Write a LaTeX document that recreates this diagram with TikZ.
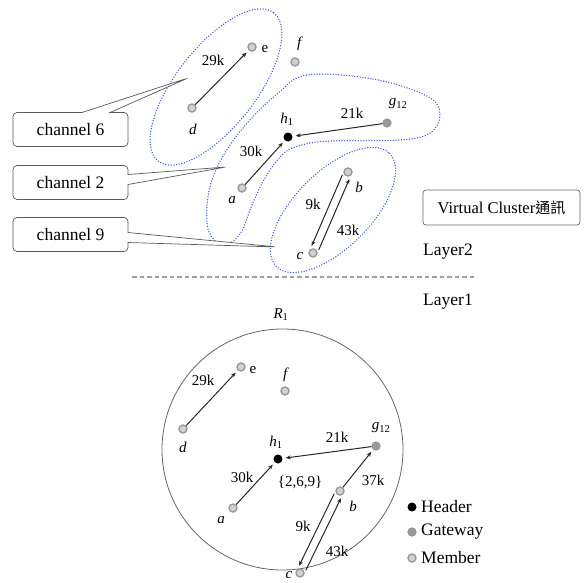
\documentclass[tikz,border=0pt]{standalone}
\usepackage{fontspec}
\setmainfont{Liberation Serif}
\newfontfamily\cjkfont{Noto Sans CJK TC}
\usetikzlibrary{shapes.callouts,arrows.meta}

\definecolor{chanblue}{RGB}{70,90,215}

\tikzset{
  header/.style={circle, fill=black, inner sep=0pt, minimum size=9pt},
  gateway/.style={circle, fill=gray!80, draw=gray!90, line width=0.6pt, inner sep=0pt, minimum size=8.5pt},
  member/.style={circle, fill=gray!35, draw=gray!80, line width=1.4pt, inner sep=0pt, minimum size=8pt},
  link/.style={draw=black!85, line width=1pt, -{Stealth[length=5pt,width=4pt]}, shorten >=3pt},
  dbl/.style={link, shorten <=5pt, shorten >=6pt},
  lab/.style={inner sep=0pt, font=\rmfamily\fontsize{15}{17}\selectfont},
  biglab/.style={inner sep=0pt, font=\rmfamily\fontsize{17.5}{20}\selectfont},
  chan/.style={draw=chanblue, line width=1.5pt, line cap=round, dash pattern=on 0pt off 2.7pt},
  callbox/.style={rectangle callout, draw=black!65, line width=0.7pt, rounded corners=4pt,
    minimum width=115pt, minimum height=34pt, fill=white, font=\rmfamily\fontsize{17.5}{20}\selectfont},
}

\begin{document}
\begin{tikzpicture}[x=1pt, y=-1pt]
\useasboundingbox (0,0) rectangle (587,582);

% ---------------- Layer 2: virtual clusters ----------------
% channel regions
\draw[chan, rotate around={52:(216,87)}] (216,87) ellipse [x radius=94, y radius=40];
\draw[chan, rotate around={45:(333,210)}] (333,210) ellipse [x radius=80, y radius=38];
\draw[chan] plot[smooth cycle, tension=0.6] coordinates {
  (307,75) (373,79) (427,96) (440,114) (430,133) (400,140) (330,141) (298,146)
  (282,155) (265,178) (252,205) (240,234) (223,245) (209,232) (207,205) (213,177)
  (228,148) (250,120) (277,94)};

% channel callouts
\node[callbox, callout absolute pointer={(188,78)}, callout pointer width=28pt] (ch6) at (70.5,129.5) {channel 6};
\node[callbox, callout absolute pointer={(226,167)}, callout pointer width=10pt] (ch2) at (70.5,182.5) {channel 2};
\node[callbox, callout absolute pointer={(277,247)}, callout pointer width=10pt] (ch9) at (70.5,234.5) {channel 9};

% nodes
\node[member]  (te) at (252,47) {};
\node[member]  (tf) at (295,62) {};
\node[member]  (td) at (192,108) {};
\node[header]  (th) at (288,137) {};
\node[gateway] (tg) at (387,123) {};
\node[member]  (ta) at (242,188) {};
\node[member]  (tb) at (348,172) {};
\node[member]  (tc) at (313,253) {};

% node labels
\node[lab] (tel) at (265,49) {e};
\node[lab] (tfl) at (300,44) {\textit{f}};
\node[lab] (tdl) at (193,129) {\textit{d}};
\node[lab] (thl) at (287,119) {\textit{h}\textsubscript{1}};
\node[lab] (tgl) at (398,104) {\textit{g}\textsubscript{12}};
\node[lab] (tal) at (232,200) {\textit{a}};
\node[lab] (tbl) at (359,187) {\textit{b}};
\node[lab] (tcl) at (300,256) {\textit{c}};

% links
\draw[link] (td) -- (te);
\draw[link] (tg) -- (th);
\draw[link] (ta) -- (th);
\draw[dbl] ([shift={(-3.7,-1.6)}]tb.center) -- ([shift={(-3.7,-1.6)}]tc.center);
\draw[dbl] ([shift={(3.7,1.6)}]tc.center) -- ([shift={(3.7,1.6)}]tb.center);

% link weights
\node[lab] (tw29) at (213,60) {29k};
\node[lab] (tw21) at (352,113) {21k};
\node[lab] (tw30) at (251,151) {30k};
\node[lab] (tw9)  at (313,204) {9k};
\node[lab] (tw43) at (348,230) {43k};

% cluster tag and layer divider
\node[draw=black!60, line width=0.7pt, rounded corners=3pt, minimum width=157pt, minimum height=35pt,
      font=\rmfamily\fontsize{16.5}{19}\selectfont] (vc) at (501.5,207.5) {Virtual Cluster{\cjkfont\fontsize{15}{19}\selectfont 通訊}};
\node[biglab, anchor=west] (l2) at (423,252) {Layer2};
\coordinate (divl) at (132,277);
\coordinate (divr) at (476,277);
\draw[gray!75, line width=1.1pt, dash pattern=on 4.5pt off 3pt] (divl) -- (divr);
\node[biglab, anchor=west] (l1) at (423,302) {Layer1};

% ---------------- Layer 1: physical region ----------------
\node[draw=black!60, line width=0.8pt, circle, minimum size=241pt, inner sep=0pt] (reg) at (282.5,449.5) {};
\node[lab] (regl) at (281,315) {\textit{R}\textsubscript{1}};

% nodes
\node[member]  (be) at (241,367) {};
\node[member]  (bf) at (285,391) {};
\node[member]  (bd) at (183,429) {};
\node[header]  (bh) at (278,459) {};
\node[gateway] (bg) at (376,446) {};
\node[member]  (ba) at (233,508) {};
\node[member]  (bb) at (340,491) {};
\node[member]  (bc) at (300,573) {};

% node labels
\node[lab] (bel) at (253,370) {e};
\node[lab] (bfl) at (286,375) {\textit{f}};
\node[lab] (bdl) at (183,447) {\textit{d}};
\node[lab] (bhl) at (276,442) {\textit{h}\textsubscript{1}};
\node[lab] (bhs) at (300,482) {\{2,6,9\}};
\node[lab] (bgl) at (381,428) {\textit{g}\textsubscript{12}};
\node[lab] (bal) at (221,520) {\textit{a}};
\node[lab] (bbl) at (353,506) {\textit{b}};
\node[lab] (bcl) at (289,575) {\textit{c}};

% links
\draw[link] (bd) -- (be);
\draw[link] (bg) -- (bh);
\draw[link] (ba) -- (bh);
\draw[link] (bb) -- (bg);
\draw[dbl] ([shift={(-3.6,-1.8)}]bb.center) -- ([shift={(-3.6,-1.8)}]bc.center);
\draw[dbl] ([shift={(3.6,1.8)}]bc.center) -- ([shift={(3.6,1.8)}]bb.center);

% link weights
\node[lab] (bw29) at (203,380) {29k};
\node[lab] (bw21) at (337,437) {21k};
\node[lab] (bw30) at (242,477) {30k};
\node[lab] (bw37) at (373,480) {37k};
\node[lab] (bw9)  at (303,526) {9k};
\node[lab] (bw43) at (337,551) {43k};

% legend
\node[header]  (kh) at (412,507) {};
\node[gateway] (kg) at (412,532) {};
\node[member]  (km) at (412,558) {};
\node[biglab, anchor=west] (khl) at (421,507) {Header};
\node[biglab, anchor=west] (kgl) at (421,532) {Gateway};
\node[biglab, anchor=west] (kml) at (421,558) {Member};
\end{tikzpicture}
\end{document}
